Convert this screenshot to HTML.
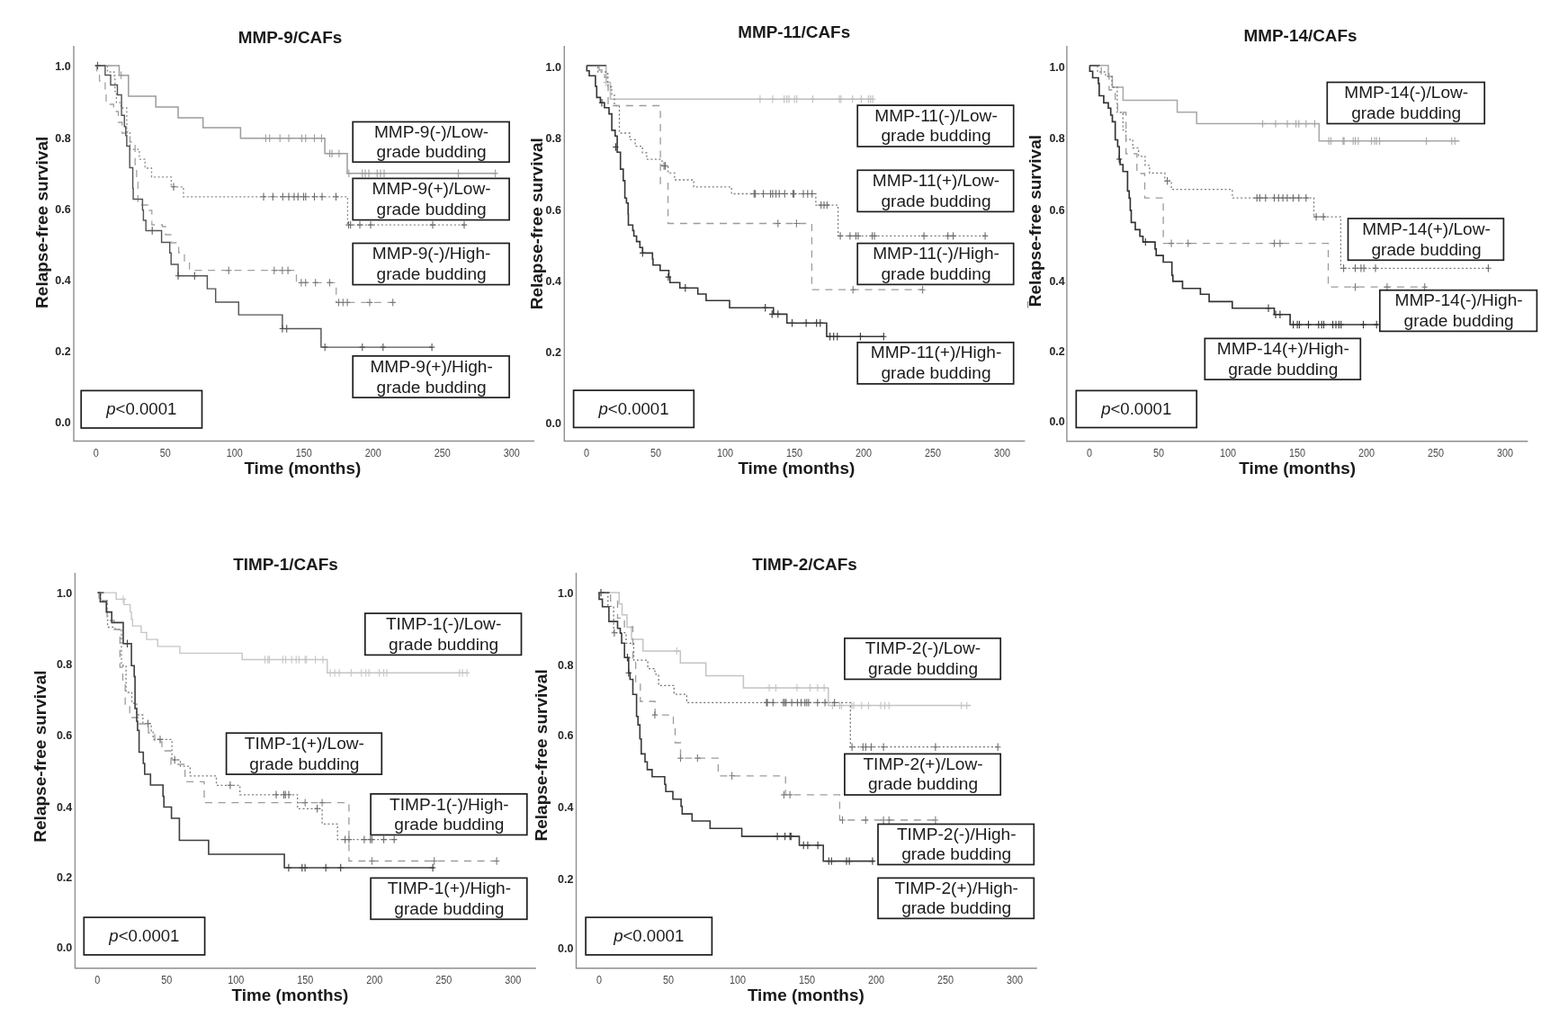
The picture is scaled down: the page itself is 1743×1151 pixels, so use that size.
<!DOCTYPE html>
<html><head><meta charset="utf-8"><title>Relapse-free survival curves</title>
<style>
html,body{margin:0;padding:0;background:#fff;}
svg{display:block;}
text{font-family:"Liberation Sans",Arial,sans-serif;}
</style></head>
<body>
<svg width="1743" height="1151" viewBox="0 0 1743 1151">
<rect width="1743" height="1151" fill="#fff"/>
<path d="M106.0 73.0H132.5V83.8H142.8V107.1H173.2V118.9H198.0V130.9H225.7V141.9H267.4V153.8H361.1V170.8H386.0V192.7H552.4" fill="none" stroke="#9c9c9c" stroke-width="1.5"/>
<path d="M134.6 79.6v8.4M131.4 83.8h6.4M295.4 149.6v8.4M292.2 153.8h6.4M299.7 149.6v8.4M296.5 153.8h6.4M311.2 149.6v8.4M308.0 153.8h6.4M321.0 149.6v8.4M317.8 153.8h6.4M335.5 149.6v8.4M332.3 153.8h6.4M339.8 149.6v8.4M336.6 153.8h6.4M349.5 149.6v8.4M346.3 153.8h6.4M357.4 149.6v8.4M354.2 153.8h6.4M366.6 166.6v8.4M363.4 170.8h6.4M369.0 166.6v8.4M365.8 170.8h6.4M376.9 166.6v8.4M373.7 170.8h6.4M387.8 188.5v8.4M384.6 192.7h6.4M402.8 188.5v8.4M399.6 192.7h6.4M406.0 188.5v8.4M402.8 192.7h6.4M410.0 188.5v8.4M406.8 192.7h6.4M419.2 188.5v8.4M416.0 192.7h6.4M423.0 188.5v8.4M419.8 192.7h6.4M427.0 188.5v8.4M423.8 192.7h6.4M509.5 188.5v8.4M506.3 192.7h6.4M550.6 188.5v8.4M547.4 192.7h6.4" fill="none" stroke="#9c9c9c" stroke-width="1.1"/>
<path d="M106.0 73.0H119.5V80.0H126.8V84.0H127.8V101.7H129.4V114.2H134.6V120.0H140.9V146.5H144.5V166.2H154.9V177.1H161.2V187.0H168.5V196.9H190.4V207.8H203.9V218.8H386.4V250.1H518.6" fill="none" stroke="#8a8a8a" stroke-width="1.3" stroke-dasharray="2 2.5"/>
<path d="M193.0 203.6v8.4M189.8 207.8h6.4M293.0 214.6v8.4M289.8 218.8h6.4M303.3 214.6v8.4M300.1 218.8h6.4M314.3 214.6v8.4M311.1 218.8h6.4M321.0 214.6v8.4M317.8 218.8h6.4M327.0 214.6v8.4M323.8 218.8h6.4M331.3 214.6v8.4M328.1 218.8h6.4M337.4 214.6v8.4M334.2 218.8h6.4M339.8 214.6v8.4M336.6 218.8h6.4M349.5 214.6v8.4M346.3 218.8h6.4M358.0 214.6v8.4M354.8 218.8h6.4M373.5 214.6v8.4M370.3 218.8h6.4M387.5 245.9v8.4M384.3 250.1h6.4M389.7 245.9v8.4M386.5 250.1h6.4M400.0 245.9v8.4M396.8 250.1h6.4M412.0 245.9v8.4M408.8 250.1h6.4M481.0 245.9v8.4M477.8 250.1h6.4M516.0 245.9v8.4M512.8 250.1h6.4" fill="none" stroke="#6a6a6a" stroke-width="1.1"/>
<path d="M106.0 73.0H107.5V81.0H110.6V90.0H116.9V100.0H118.0V116.0H126.3V124.0H131.5V136.0H135.7V148.0H144.5V158.0H150.2V183.0H151.8V200.0H153.3V228.0H165.3V234.0H168.8V250.0H180.5V252.0H184.0V261.0H190.0V270.0H198.6V281.0H205.0V290.0H210.6V300.7H329.5V314.4H373.7V336.4H437.2" fill="none" stroke="#a2a2a2" stroke-width="1.3" stroke-dasharray="8 6.7"/>
<path d="M254.3 296.5v8.4M251.1 300.7h6.4M304.8 296.5v8.4M301.6 300.7h6.4M313.9 296.5v8.4M310.7 300.7h6.4M320.1 296.5v8.4M316.9 300.7h6.4M334.9 310.2v8.4M331.7 314.4h6.4M339.7 310.2v8.4M336.5 314.4h6.4M350.7 310.2v8.4M347.5 314.4h6.4M366.5 310.2v8.4M363.3 314.4h6.4M376.5 332.2v8.4M373.3 336.4h6.4M381.3 332.2v8.4M378.1 336.4h6.4M386.1 332.2v8.4M382.9 336.4h6.4M411.0 332.2v8.4M407.8 336.4h6.4M436.7 332.2v8.4M433.5 336.4h6.4" fill="none" stroke="#7c7c7c" stroke-width="1.1"/>
<path d="M106.0 73.0H116.9V83.5H123.0V94.4H130.5V105.4H135.1V128.3H138.3V140.8H139.8V150.7H140.9V162.5H144.2V186.5H147.6V209.4H148.1V221.4H158.4V233.4H159.4V244.9H162.2V256.5H179.6V269.5H188.7V281.2H190.2V294.0H198.0V306.7H230.4V321.1H239.7V335.9H265.3V350.1H313.9V365.5H356.9V386.1H480.5" fill="none" stroke="#555555" stroke-width="1.45"/>
<path d="M108.5 68.8v8.4M105.3 73.0h6.4M169.2 252.3v8.4M166.0 256.5h6.4M198.0 302.5v8.4M194.8 306.7h6.4M216.3 302.5v8.4M213.1 306.7h6.4M313.9 361.3v8.4M310.7 365.5h6.4M318.7 361.3v8.4M315.5 365.5h6.4M361.2 381.9v8.4M358.0 386.1h6.4M402.8 381.9v8.4M399.6 386.1h6.4M425.8 381.9v8.4M422.6 386.1h6.4M480.1 381.9v8.4M476.9 386.1h6.4" fill="none" stroke="#555555" stroke-width="1.1"/>
<path d="M652.3 72.8H673.8V91.5H678.5V110.2H971.4" fill="none" stroke="#bdbdbd" stroke-width="1.6"/>
<path d="M673.8 87.3v8.4M670.6 91.5h6.4M844.9 106.0v8.4M841.7 110.2h6.4M858.9 106.0v8.4M855.7 110.2h6.4M871.7 106.0v8.4M868.5 110.2h6.4M874.7 106.0v8.4M871.5 110.2h6.4M877.1 106.0v8.4M873.9 110.2h6.4M883.2 106.0v8.4M880.0 110.2h6.4M885.7 106.0v8.4M882.5 110.2h6.4M903.3 106.0v8.4M900.1 110.2h6.4M933.1 106.0v8.4M929.9 110.2h6.4M934.9 106.0v8.4M931.7 110.2h6.4M947.7 106.0v8.4M944.5 110.2h6.4M957.4 106.0v8.4M954.2 110.2h6.4M965.3 106.0v8.4M962.1 110.2h6.4M967.7 106.0v8.4M964.5 110.2h6.4M970.2 106.0v8.4M967.0 110.2h6.4" fill="none" stroke="#bdbdbd" stroke-width="1.1"/>
<path d="M652.3 72.8H664.6V80.0H675.6V96.5H680.0V105.6H683.0V117.5H688.5V148.0H700.1V155.3H706.1V162.6H714.1V169.9H718.9V177.2H735.9V184.5H742.6V192.4H749.9V200.0H771.2V207.8H813.2V215.5H906.9V228.1H931.6V262.4H1096.6" fill="none" stroke="#7e7e7e" stroke-width="1.3" stroke-dasharray="2 2.5"/>
<path d="M738.1 180.3v8.4M734.9 184.5h6.4M739.6 180.3v8.4M736.4 184.5h6.4M838.2 211.3v8.4M835.0 215.5h6.4M839.5 211.3v8.4M836.3 215.5h6.4M848.6 211.3v8.4M845.4 215.5h6.4M856.5 211.3v8.4M853.3 215.5h6.4M858.9 211.3v8.4M855.7 215.5h6.4M862.6 211.3v8.4M859.4 215.5h6.4M866.2 211.3v8.4M863.0 215.5h6.4M872.3 211.3v8.4M869.1 215.5h6.4M881.4 211.3v8.4M878.2 215.5h6.4M882.6 211.3v8.4M879.4 215.5h6.4M893.0 211.3v8.4M889.8 215.5h6.4M897.8 211.3v8.4M894.6 215.5h6.4M902.7 211.3v8.4M899.5 215.5h6.4M912.7 223.9v8.4M909.5 228.1h6.4M916.0 223.9v8.4M912.8 228.1h6.4M919.3 223.9v8.4M916.1 228.1h6.4M934.1 258.2v8.4M930.9 262.4h6.4M944.9 258.2v8.4M941.7 262.4h6.4M951.5 258.2v8.4M948.3 262.4h6.4M953.9 258.2v8.4M950.7 262.4h6.4M969.6 258.2v8.4M966.4 262.4h6.4M972.1 258.2v8.4M968.9 262.4h6.4M1027.1 258.2v8.4M1023.9 262.4h6.4M1053.7 258.2v8.4M1050.5 262.4h6.4M1059.6 258.2v8.4M1056.4 262.4h6.4M1095.1 258.2v8.4M1091.9 262.4h6.4" fill="none" stroke="#6a6a6a" stroke-width="1.1"/>
<path d="M652.3 72.8H666.0V78.0H672.0V86.0H676.0V117.5H734.1V204.0H742.6V248.5H902.4V322.2H1025.6" fill="none" stroke="#9c9c9c" stroke-width="1.3" stroke-dasharray="8 6.7"/>
<path d="M864.8 244.3v8.4M861.6 248.5h6.4M885.4 244.3v8.4M882.2 248.5h6.4M948.2 318.0v8.4M945.0 322.2h6.4M1025.6 318.0v8.4M1022.4 322.2h6.4" fill="none" stroke="#7c7c7c" stroke-width="1.1"/>
<path d="M652.3 72.8H652.3V78.7H655.0V84.2H661.9V96.0H663.3V108.4H667.4V114.3H671.9V119.8H677.0V126.6H680.1V144.9H683.8V151.2H686.1V169.3H689.7V188.1H692.8V200.9H694.6V220.3H696.4V225.8H698.2V238.0H698.5V250.3H703.4V256.4H704.6V262.5H707.6V268.6H711.3V275.3H714.3V281.4H725.3V288.0H725.9V294.7H733.8V300.8H743.5V308.1H744.7V314.2H755.7V320.3H775.7V327.0H784.9V334.3H811.0V342.2H859.8V349.4H874.7V359.3H918.9V374.2H982.3" fill="none" stroke="#363636" stroke-width="1.6"/>
<path d="M669.0 110.1v8.4M665.8 114.3h6.4M684.4 159.3v8.4M681.2 163.5h6.4M714.3 277.2v8.4M711.1 281.4h6.4M742.9 303.9v8.4M739.7 308.1h6.4M761.8 316.1v8.4M758.6 320.3h6.4M850.7 338.0v8.4M847.5 342.2h6.4M858.2 345.2v8.4M855.0 349.4h6.4M864.8 345.2v8.4M861.6 349.4h6.4M880.5 355.1v8.4M877.3 359.3h6.4M896.1 355.1v8.4M892.9 359.3h6.4M907.7 355.1v8.4M904.5 359.3h6.4M911.8 355.1v8.4M908.6 359.3h6.4M922.6 370.0v8.4M919.4 374.2h6.4M926.7 370.0v8.4M923.5 374.2h6.4M930.8 370.0v8.4M927.6 374.2h6.4M956.4 370.0v8.4M953.2 374.2h6.4M982.3 370.0v8.4M979.1 374.2h6.4" fill="none" stroke="#363636" stroke-width="1.1"/>
<path d="M1211.4 72.8H1232.0V85.1H1236.5V97.0H1248.4V111.6H1308.6V124.8H1330.2V137.6H1466.3V156.8H1622.3" fill="none" stroke="#a8a8a8" stroke-width="1.5"/>
<path d="M1403.6 133.4v8.4M1400.4 137.6h6.4M1418.0 133.4v8.4M1414.8 137.6h6.4M1431.0 133.4v8.4M1427.8 137.6h6.4M1440.6 133.4v8.4M1437.4 137.6h6.4M1443.8 133.4v8.4M1440.6 137.6h6.4M1451.8 133.4v8.4M1448.6 137.6h6.4M1461.5 133.4v8.4M1458.3 137.6h6.4M1477.1 152.6v8.4M1473.9 156.8h6.4M1479.4 152.6v8.4M1476.2 156.8h6.4M1492.9 152.6v8.4M1489.7 156.8h6.4M1494.1 152.6v8.4M1490.9 156.8h6.4M1504.2 152.6v8.4M1501.0 156.8h6.4M1506.5 152.6v8.4M1503.3 156.8h6.4M1509.9 152.6v8.4M1506.7 156.8h6.4M1524.6 152.6v8.4M1521.4 156.8h6.4M1528.0 152.6v8.4M1524.8 156.8h6.4M1530.2 152.6v8.4M1527.0 156.8h6.4M1533.6 152.6v8.4M1530.4 156.8h6.4M1585.6 152.6v8.4M1582.4 156.8h6.4M1613.8 152.6v8.4M1610.6 156.8h6.4M1617.2 152.6v8.4M1614.0 156.8h6.4" fill="none" stroke="#a8a8a8" stroke-width="1.1"/>
<path d="M1211.4 72.8H1220.0V80.0H1229.0V85.0H1236.0V97.0H1241.9V125.0H1248.3V144.6H1251.5V155.1H1259.2V164.7H1265.6V173.8H1272.9V183.9H1277.9V192.5H1294.8V201.2H1302.1V210.7H1369.9V220.1H1460.5V241.1H1490.4V298.3H1654.4" fill="none" stroke="#7e7e7e" stroke-width="1.3" stroke-dasharray="2 2.5"/>
<path d="M1297.6 197.0v8.4M1294.4 201.2h6.4M1397.2 215.9v8.4M1394.0 220.1h6.4M1400.4 215.9v8.4M1397.2 220.1h6.4M1406.8 215.9v8.4M1403.6 220.1h6.4M1416.5 215.9v8.4M1413.3 220.1h6.4M1421.3 215.9v8.4M1418.1 220.1h6.4M1426.1 215.9v8.4M1422.9 220.1h6.4M1430.9 215.9v8.4M1427.7 220.1h6.4M1437.4 215.9v8.4M1434.2 220.1h6.4M1443.8 215.9v8.4M1440.6 220.1h6.4M1451.8 215.9v8.4M1448.6 220.1h6.4M1463.1 236.9v8.4M1459.9 241.1h6.4M1471.1 236.9v8.4M1467.9 241.1h6.4M1493.6 294.1v8.4M1490.4 298.3h6.4M1506.5 294.1v8.4M1503.3 298.3h6.4M1512.9 294.1v8.4M1509.7 298.3h6.4M1516.1 294.1v8.4M1512.9 298.3h6.4M1529.0 294.1v8.4M1525.8 298.3h6.4M1654.4 294.1v8.4M1651.2 298.3h6.4" fill="none" stroke="#6a6a6a" stroke-width="1.1"/>
<path d="M1211.4 72.8H1224.2V82.0H1232.9V100.0H1239.7V115.0H1242.4V125.0H1251.7V171.0H1263.8V193.0H1272.5V220.1H1293.1V270.6H1476.5V319.2H1585.3" fill="none" stroke="#9c9c9c" stroke-width="1.3" stroke-dasharray="8 6.7"/>
<path d="M1302.1 266.4v8.4M1298.9 270.6h6.4M1320.7 266.4v8.4M1317.5 270.6h6.4M1416.5 266.4v8.4M1413.3 270.6h6.4M1422.9 266.4v8.4M1419.7 270.6h6.4M1506.5 315.0v8.4M1503.3 319.2h6.4M1541.9 315.0v8.4M1538.7 319.2h6.4M1583.7 315.0v8.4M1580.5 319.2h6.4" fill="none" stroke="#7c7c7c" stroke-width="1.1"/>
<path d="M1211.4 72.8H1211.4V79.2H1214.6V86.5H1221.0V92.8H1221.9V106.5H1226.9V114.3H1232.0V120.2H1234.7V128.0H1236.5V135.3H1239.7V155.5H1242.4V163.0H1244.2V177.0H1245.1V183.0H1248.3V190.7H1253.4V212.3H1255.2V220.3H1256.4V233.9H1257.5V247.4H1262.0V255.3H1267.1V262.7H1270.5V269.1H1284.0V276.8H1285.2V284.1H1293.1V291.5H1302.7V306.1H1303.8V312.9H1314.5V320.7H1334.4V327.2H1344.1V335.3H1369.8V342.7H1416.5V349.7H1434.1V361.0H1532.2" fill="none" stroke="#333333" stroke-width="1.65"/>
<path d="M1244.2 172.8v8.4M1241.0 177.0h6.4M1273.3 264.9v8.4M1270.1 269.1h6.4M1410.0 338.5v8.4M1406.8 342.7h6.4M1418.0 345.5v8.4M1414.8 349.7h6.4M1422.9 345.5v8.4M1419.7 349.7h6.4M1437.6 356.8v8.4M1434.4 361.0h6.4M1442.1 356.8v8.4M1438.9 361.0h6.4M1444.4 356.8v8.4M1441.2 361.0h6.4M1454.5 356.8v8.4M1451.3 361.0h6.4M1465.8 356.8v8.4M1462.6 361.0h6.4M1469.2 356.8v8.4M1466.0 361.0h6.4M1471.5 356.8v8.4M1468.3 361.0h6.4M1481.6 356.8v8.4M1478.4 361.0h6.4M1485.0 356.8v8.4M1481.8 361.0h6.4M1488.4 356.8v8.4M1485.2 361.0h6.4M1490.7 356.8v8.4M1487.5 361.0h6.4M1515.5 356.8v8.4M1512.3 361.0h6.4M1530.2 356.8v8.4M1527.0 361.0h6.4" fill="none" stroke="#333333" stroke-width="1.1"/>
<path d="M108.7 659.1H129.2V666.4H137.9V672.4H144.7V680.6H146.1V688.8H147.4V696.1H157.0V703.4H163.0V711.1H175.3V718.9H199.9V726.4H269.2V733.5H363.8V748.2H520.7" fill="none" stroke="#c6c6c6" stroke-width="1.4"/>
<path d="M137.0 662.2v8.4M133.8 666.4h6.4M294.5 729.3v8.4M291.3 733.5h6.4M297.8 729.3v8.4M294.6 733.5h6.4M299.4 729.3v8.4M296.2 733.5h6.4M314.3 729.3v8.4M311.1 733.5h6.4M317.6 729.3v8.4M314.4 733.5h6.4M324.2 729.3v8.4M321.0 733.5h6.4M329.2 729.3v8.4M326.0 733.5h6.4M332.5 729.3v8.4M329.3 733.5h6.4M339.1 729.3v8.4M335.9 733.5h6.4M340.7 729.3v8.4M337.5 733.5h6.4M350.6 729.3v8.4M347.4 733.5h6.4M358.9 729.3v8.4M355.7 733.5h6.4M367.1 744.0v8.4M363.9 748.2h6.4M372.1 744.0v8.4M368.9 748.2h6.4M377.1 744.0v8.4M373.9 748.2h6.4M390.3 744.0v8.4M387.1 748.2h6.4M401.8 744.0v8.4M398.6 748.2h6.4M406.8 744.0v8.4M403.6 748.2h6.4M410.1 744.0v8.4M406.9 748.2h6.4M421.6 744.0v8.4M418.4 748.2h6.4M426.6 744.0v8.4M423.4 748.2h6.4M429.9 744.0v8.4M426.7 748.2h6.4M510.8 744.0v8.4M507.6 748.2h6.4M514.1 744.0v8.4M510.9 748.2h6.4M519.1 744.0v8.4M515.9 748.2h6.4" fill="none" stroke="#c6c6c6" stroke-width="1.1"/>
<path d="M108.7 659.1H112.0V668.0H119.2V680.0H119.6V697.5H128.0V700.0H135.0V740.0H140.1V770.0H146.5V782.0H152.0V795.0H158.8V804.7H168.1V813.0H170.2V822.4H191.1V845.0H200.5V852.1H211.4V862.8H240.5V873.3H266.7V883.8H330.7V899.3H358.1V916.3H375.2V933.6H439.8" fill="none" stroke="#7e7e7e" stroke-width="1.3" stroke-dasharray="2 2.5"/>
<path d="M164.5 800.5v8.4M161.3 804.7h6.4M178.0 818.2v8.4M174.8 822.4h6.4M194.2 840.8v8.4M191.0 845.0h6.4M255.9 869.1v8.4M252.7 873.3h6.4M307.0 879.6v8.4M303.8 883.8h6.4M315.5 879.6v8.4M312.3 883.8h6.4M317.3 879.6v8.4M314.1 883.8h6.4M321.0 879.6v8.4M317.8 883.8h6.4M352.6 895.1v8.4M349.4 899.3h6.4M383.6 929.4v8.4M380.4 933.6h6.4M387.9 929.4v8.4M384.7 933.6h6.4M404.9 929.4v8.4M401.7 933.6h6.4M411.7 929.4v8.4M408.5 933.6h6.4M413.4 929.4v8.4M410.2 933.6h6.4M426.6 929.4v8.4M423.4 933.6h6.4M438.2 929.4v8.4M435.0 933.6h6.4" fill="none" stroke="#6a6a6a" stroke-width="1.1"/>
<path d="M108.7 659.1H110.0V668.0H119.0V690.0H127.0V700.0H133.3V742.0H136.5V757.0H139.2V783.0H144.2V798.0H155.0V805.0H165.0V815.0H172.0V825.0H180.0V835.0H190.0V850.0H205.7V869.3H227.0V892.6H387.9V957.5H553.7" fill="none" stroke="#9c9c9c" stroke-width="1.3" stroke-dasharray="8 6.7"/>
<path d="M339.2 888.4v8.4M336.0 892.6h6.4M358.1 888.4v8.4M354.9 892.6h6.4M413.4 953.3v8.4M410.2 957.5h6.4M482.7 953.3v8.4M479.5 957.5h6.4M552.1 953.3v8.4M548.9 957.5h6.4" fill="none" stroke="#7c7c7c" stroke-width="1.1"/>
<path d="M108.7 659.1H111.4V669.2H118.2V680.6H124.2V692.4H137.0V715.7H146.1V740.3H149.2V752.4H150.1V788.0H152.0V802.1H152.9V812.2H154.6V836.5H159.3V849.0H160.8V861.0H167.3V873.0H181.2V885.5H182.2V897.5H190.6V910.0H199.4V934.5H231.9V950.0H316.1V965.0H482.7" fill="none" stroke="#3e3e3e" stroke-width="1.6"/>
<path d="M141.5 711.5v8.4M138.3 715.7h6.4M320.9 960.8v8.4M317.7 965.0h6.4M335.8 960.8v8.4M332.6 965.0h6.4M339.1 960.8v8.4M335.9 965.0h6.4M362.2 960.8v8.4M359.0 965.0h6.4M378.7 960.8v8.4M375.5 965.0h6.4M481.1 960.8v8.4M477.9 965.0h6.4" fill="none" stroke="#3e3e3e" stroke-width="1.1"/>
<path d="M666.0 659.1H688.3V671.5H691.5V683.8H697.0V697.5H702.0V711.1H714.8V723.9H756.3V737.3H784.7V751.4H826.4V764.9H920.8V784.6H1079.4" fill="none" stroke="#c4c4c4" stroke-width="1.5"/>
<path d="M752.2 719.7v8.4M749.0 723.9h6.4M855.1 760.7v8.4M851.9 764.9h6.4M862.4 760.7v8.4M859.2 764.9h6.4M885.9 760.7v8.4M882.7 764.9h6.4M900.5 760.7v8.4M897.3 764.9h6.4M908.8 760.7v8.4M905.6 764.9h6.4M916.1 760.7v8.4M912.9 764.9h6.4M925.5 780.4v8.4M922.3 784.6h6.4M933.3 780.4v8.4M930.1 784.6h6.4M935.4 780.4v8.4M932.2 784.6h6.4M946.9 780.4v8.4M943.7 784.6h6.4M949.0 780.4v8.4M945.8 784.6h6.4M957.8 780.4v8.4M954.6 784.6h6.4M965.4 780.4v8.4M962.2 784.6h6.4M979.0 780.4v8.4M975.8 784.6h6.4M983.6 780.4v8.4M980.4 784.6h6.4M988.2 780.4v8.4M985.0 784.6h6.4M1068.7 780.4v8.4M1065.5 784.6h6.4M1074.8 780.4v8.4M1071.6 784.6h6.4" fill="none" stroke="#c4c4c4" stroke-width="1.1"/>
<path d="M666.0 659.1H675.8V674.3H682.1V703.7H696.0V715.3H704.5V734.2H720.1V743.6H728.0V749.8H732.1V762.3H749.3V772.2H763.4V781.4H945.3V830.7H1109.8" fill="none" stroke="#727272" stroke-width="1.3" stroke-dasharray="2 2.5"/>
<path d="M682.9 699.5v8.4M679.7 703.7h6.4M852.0 777.2v8.4M848.8 781.4h6.4M853.0 777.2v8.4M849.8 781.4h6.4M859.3 777.2v8.4M856.1 781.4h6.4M870.7 777.2v8.4M867.5 781.4h6.4M872.3 777.2v8.4M869.1 781.4h6.4M873.9 777.2v8.4M870.7 781.4h6.4M880.1 777.2v8.4M876.9 781.4h6.4M886.4 777.2v8.4M883.2 781.4h6.4M890.5 777.2v8.4M887.3 781.4h6.4M894.7 777.2v8.4M891.5 781.4h6.4M896.8 777.2v8.4M893.6 781.4h6.4M898.9 777.2v8.4M895.7 781.4h6.4M908.8 777.2v8.4M905.6 781.4h6.4M917.1 777.2v8.4M913.9 781.4h6.4M927.6 777.2v8.4M924.4 781.4h6.4M947.1 826.5v8.4M943.9 830.7h6.4M959.3 826.5v8.4M956.1 830.7h6.4M962.3 826.5v8.4M959.1 830.7h6.4M968.4 826.5v8.4M965.2 830.7h6.4M982.1 826.5v8.4M978.9 830.7h6.4M1039.9 826.5v8.4M1036.7 830.7h6.4M1109.2 826.5v8.4M1106.0 830.7h6.4" fill="none" stroke="#6a6a6a" stroke-width="1.1"/>
<path d="M666.0 659.1H678.7V668.3H686.5V687.3H694.1V697.0H703.5V733.0H706.6V760.0H711.8V780.0H728.2V795.1H748.5V809.0H750.5V826.0H756.5V843.1H798.4V862.8H873.2V883.9H933.4V912.0H1041.4" fill="none" stroke="#9c9c9c" stroke-width="1.3" stroke-dasharray="8 6.7"/>
<path d="M727.9 790.9v8.4M724.7 795.1h6.4M756.5 838.9v8.4M753.3 843.1h6.4M775.3 838.9v8.4M772.1 843.1h6.4M813.6 858.6v8.4M810.4 862.8h6.4M871.4 879.7v8.4M868.2 883.9h6.4M878.1 879.7v8.4M874.9 883.9h6.4M936.5 907.8v8.4M933.3 912.0h6.4M962.3 907.8v8.4M959.1 912.0h6.4M982.1 907.8v8.4M978.9 912.0h6.4M988.2 907.8v8.4M985.0 912.0h6.4M1039.9 907.8v8.4M1036.7 912.0h6.4" fill="none" stroke="#7c7c7c" stroke-width="1.1"/>
<path d="M666.0 659.1H666.0V666.4H669.6V674.7H676.9V691.1H686.5V698.8H689.5V704.3H691.0V715.3H694.2V731.2H698.8V748.2H700.3V755.5H703.5V772.2H707.6V796.7H709.2V806.1H711.3V821.7H712.8V838.4H717.0V847.3H719.5V855.9H724.9V863.8H738.9V872.3H740.1V880.2H748.0V888.7H757.1V896.6H758.3V905.1H769.3V913.0H789.3V921.2H824.6V930.1H888.5V940.0H915.2V957.6H971.5" fill="none" stroke="#3a3a3a" stroke-width="1.6"/>
<path d="M668.0 654.9v8.4M664.8 659.1h6.4M697.4 727.0v8.4M694.2 731.2h6.4M698.8 744.0v8.4M695.6 748.2h6.4M864.1 925.9v8.4M860.9 930.1h6.4M872.6 925.9v8.4M869.4 930.1h6.4M878.1 925.9v8.4M874.9 930.1h6.4M879.3 925.9v8.4M876.1 930.1h6.4M893.2 935.8v8.4M890.0 940.0h6.4M897.9 935.8v8.4M894.7 940.0h6.4M909.1 935.8v8.4M905.9 940.0h6.4M921.3 953.4v8.4M918.1 957.6h6.4M924.3 953.4v8.4M921.1 957.6h6.4M941.0 953.4v8.4M937.8 957.6h6.4M944.1 953.4v8.4M940.9 957.6h6.4M969.9 953.4v8.4M966.7 957.6h6.4" fill="none" stroke="#3a3a3a" stroke-width="1.1"/>
<path d="M652.3 72.8H673.8" stroke="#505050" stroke-width="1.6" fill="none"/>
<path d="M1211.4 72.8H1222.4" stroke="#505050" stroke-width="1.6" fill="none"/>
<path d="M108.7 659.1H115.5" stroke="#606060" stroke-width="1.6" fill="none"/>
<path d="M666 659.1H677.6" stroke="#555555" stroke-width="1.6" fill="none"/>
<path d="M1142.6 335V342.6" stroke="#8a8a8a" stroke-width="1.2"/>
<path d="M82.0 51 V490.5 H594.0" fill="none" stroke="#8e8e8e" stroke-width="1.4"/>
<text x="78.6" y="78.1" font-size="12.5" text-anchor="end" font-weight="bold" fill="#262626" >1.0</text>
<text x="78.6" y="157.7" font-size="12.5" text-anchor="end" font-weight="bold" fill="#262626" >0.8</text>
<text x="78.6" y="236.9" font-size="12.5" text-anchor="end" font-weight="bold" fill="#262626" >0.6</text>
<text x="78.6" y="316.3" font-size="12.5" text-anchor="end" font-weight="bold" fill="#262626" >0.4</text>
<text x="78.6" y="395.2" font-size="12.5" text-anchor="end" font-weight="bold" fill="#262626" >0.2</text>
<text x="78.6" y="473.7" font-size="12.5" text-anchor="end" font-weight="bold" fill="#262626" >0.0</text>
<text transform="translate(106.7,508.4) scale(0.9,1)" x="0" y="0" font-size="12" text-anchor="middle" fill="#4a4a4a">0</text>
<text transform="translate(183.7,508.4) scale(0.9,1)" x="0" y="0" font-size="12" text-anchor="middle" fill="#4a4a4a">50</text>
<text transform="translate(260.7,508.4) scale(0.9,1)" x="0" y="0" font-size="12" text-anchor="middle" fill="#4a4a4a">100</text>
<text transform="translate(337.7,508.4) scale(0.9,1)" x="0" y="0" font-size="12" text-anchor="middle" fill="#4a4a4a">150</text>
<text transform="translate(414.7,508.4) scale(0.9,1)" x="0" y="0" font-size="12" text-anchor="middle" fill="#4a4a4a">200</text>
<text transform="translate(491.7,508.4) scale(0.9,1)" x="0" y="0" font-size="12" text-anchor="middle" fill="#4a4a4a">250</text>
<text transform="translate(568.7,508.4) scale(0.9,1)" x="0" y="0" font-size="12" text-anchor="middle" fill="#4a4a4a">300</text>
<text x="322.5" y="47.7" font-size="18.9" text-anchor="middle" font-weight="bold" fill="#1a1a1a" >MMP-9/CAFs</text>
<text x="336.3" y="526.7" font-size="18.9" text-anchor="middle" font-weight="bold" fill="#1a1a1a" >Time (months)</text>
<text x="0" y="0" font-size="19.0" font-weight="bold" text-anchor="middle" fill="#1a1a1a" transform="translate(52.6,247.3) rotate(-90)">Relapse-free survival</text>
<path d="M627.3 51 V490.5 H1139.4" fill="none" stroke="#8e8e8e" stroke-width="1.4"/>
<text x="624.0" y="79.1" font-size="12.5" text-anchor="end" font-weight="bold" fill="#262626" >1.0</text>
<text x="624.0" y="158.1" font-size="12.5" text-anchor="end" font-weight="bold" fill="#262626" >0.8</text>
<text x="624.0" y="237.7" font-size="12.5" text-anchor="end" font-weight="bold" fill="#262626" >0.6</text>
<text x="624.0" y="317.1" font-size="12.5" text-anchor="end" font-weight="bold" fill="#262626" >0.4</text>
<text x="624.0" y="396.4" font-size="12.5" text-anchor="end" font-weight="bold" fill="#262626" >0.2</text>
<text x="624.0" y="474.6" font-size="12.5" text-anchor="end" font-weight="bold" fill="#262626" >0.0</text>
<text transform="translate(651.9,508.4) scale(0.9,1)" x="0" y="0" font-size="12" text-anchor="middle" fill="#4a4a4a">0</text>
<text transform="translate(728.9,508.4) scale(0.9,1)" x="0" y="0" font-size="12" text-anchor="middle" fill="#4a4a4a">50</text>
<text transform="translate(805.9,508.4) scale(0.9,1)" x="0" y="0" font-size="12" text-anchor="middle" fill="#4a4a4a">100</text>
<text transform="translate(882.9,508.4) scale(0.9,1)" x="0" y="0" font-size="12" text-anchor="middle" fill="#4a4a4a">150</text>
<text transform="translate(959.9,508.4) scale(0.9,1)" x="0" y="0" font-size="12" text-anchor="middle" fill="#4a4a4a">200</text>
<text transform="translate(1036.9,508.4) scale(0.9,1)" x="0" y="0" font-size="12" text-anchor="middle" fill="#4a4a4a">250</text>
<text transform="translate(1113.9,508.4) scale(0.9,1)" x="0" y="0" font-size="12" text-anchor="middle" fill="#4a4a4a">300</text>
<text x="882.7" y="41.6" font-size="18.9" text-anchor="middle" font-weight="bold" fill="#1a1a1a" >MMP-11/CAFs</text>
<text x="885.3" y="526.7" font-size="18.9" text-anchor="middle" font-weight="bold" fill="#1a1a1a" >Time (months)</text>
<text x="0" y="0" font-size="19.0" font-weight="bold" text-anchor="middle" fill="#1a1a1a" transform="translate(602.6,248.7) rotate(-90)">Relapse-free survival</text>
<path d="M1185.9 51 V490.7 H1698.4" fill="none" stroke="#8e8e8e" stroke-width="1.4"/>
<text x="1183.8" y="78.6" font-size="12.5" text-anchor="end" font-weight="bold" fill="#262626" >1.0</text>
<text x="1183.8" y="158.4" font-size="12.5" text-anchor="end" font-weight="bold" fill="#262626" >0.8</text>
<text x="1183.8" y="237.7" font-size="12.5" text-anchor="end" font-weight="bold" fill="#262626" >0.6</text>
<text x="1183.8" y="317.1" font-size="12.5" text-anchor="end" font-weight="bold" fill="#262626" >0.4</text>
<text x="1183.8" y="395.3" font-size="12.5" text-anchor="end" font-weight="bold" fill="#262626" >0.2</text>
<text x="1183.8" y="473.3" font-size="12.5" text-anchor="end" font-weight="bold" fill="#262626" >0.0</text>
<text transform="translate(1210.9,508.4) scale(0.9,1)" x="0" y="0" font-size="12" text-anchor="middle" fill="#4a4a4a">0</text>
<text transform="translate(1287.9,508.4) scale(0.9,1)" x="0" y="0" font-size="12" text-anchor="middle" fill="#4a4a4a">50</text>
<text transform="translate(1364.9,508.4) scale(0.9,1)" x="0" y="0" font-size="12" text-anchor="middle" fill="#4a4a4a">100</text>
<text transform="translate(1441.9,508.4) scale(0.9,1)" x="0" y="0" font-size="12" text-anchor="middle" fill="#4a4a4a">150</text>
<text transform="translate(1518.9,508.4) scale(0.9,1)" x="0" y="0" font-size="12" text-anchor="middle" fill="#4a4a4a">200</text>
<text transform="translate(1595.9,508.4) scale(0.9,1)" x="0" y="0" font-size="12" text-anchor="middle" fill="#4a4a4a">250</text>
<text transform="translate(1672.9,508.4) scale(0.9,1)" x="0" y="0" font-size="12" text-anchor="middle" fill="#4a4a4a">300</text>
<text x="1445.5" y="46.3" font-size="18.9" text-anchor="middle" font-weight="bold" fill="#1a1a1a" >MMP-14/CAFs</text>
<text x="1442.1" y="526.7" font-size="18.9" text-anchor="middle" font-weight="bold" fill="#1a1a1a" >Time (months)</text>
<text x="0" y="0" font-size="19.0" font-weight="bold" text-anchor="middle" fill="#1a1a1a" transform="translate(1157.0,245.6) rotate(-90)">Relapse-free survival</text>
<path d="M83.4 637 V1076.8 H595.8" fill="none" stroke="#8e8e8e" stroke-width="1.4"/>
<text x="80.3" y="663.5" font-size="12.5" text-anchor="end" font-weight="bold" fill="#262626" >1.0</text>
<text x="80.3" y="742.7" font-size="12.5" text-anchor="end" font-weight="bold" fill="#262626" >0.8</text>
<text x="80.3" y="822.4" font-size="12.5" text-anchor="end" font-weight="bold" fill="#262626" >0.6</text>
<text x="80.3" y="901.9" font-size="12.5" text-anchor="end" font-weight="bold" fill="#262626" >0.4</text>
<text x="80.3" y="979.9" font-size="12.5" text-anchor="end" font-weight="bold" fill="#262626" >0.2</text>
<text x="80.3" y="1057.7" font-size="12.5" text-anchor="end" font-weight="bold" fill="#262626" >0.0</text>
<text transform="translate(108.3,1094.4) scale(0.9,1)" x="0" y="0" font-size="12" text-anchor="middle" fill="#4a4a4a">0</text>
<text transform="translate(185.3,1094.4) scale(0.9,1)" x="0" y="0" font-size="12" text-anchor="middle" fill="#4a4a4a">50</text>
<text transform="translate(262.3,1094.4) scale(0.9,1)" x="0" y="0" font-size="12" text-anchor="middle" fill="#4a4a4a">100</text>
<text transform="translate(339.3,1094.4) scale(0.9,1)" x="0" y="0" font-size="12" text-anchor="middle" fill="#4a4a4a">150</text>
<text transform="translate(416.3,1094.4) scale(0.9,1)" x="0" y="0" font-size="12" text-anchor="middle" fill="#4a4a4a">200</text>
<text transform="translate(493.3,1094.4) scale(0.9,1)" x="0" y="0" font-size="12" text-anchor="middle" fill="#4a4a4a">250</text>
<text transform="translate(570.3,1094.4) scale(0.9,1)" x="0" y="0" font-size="12" text-anchor="middle" fill="#4a4a4a">300</text>
<text x="317.5" y="633.9" font-size="18.9" text-anchor="middle" font-weight="bold" fill="#1a1a1a" >TIMP-1/CAFs</text>
<text x="322.4" y="1112.6" font-size="18.9" text-anchor="middle" font-weight="bold" fill="#1a1a1a" >Time (months)</text>
<text x="0" y="0" font-size="19.0" font-weight="bold" text-anchor="middle" fill="#1a1a1a" transform="translate(50.6,841.1) rotate(-90)">Relapse-free survival</text>
<path d="M640.5 637 V1076.8 H1152.8" fill="none" stroke="#8e8e8e" stroke-width="1.4"/>
<text x="637.5" y="664.3" font-size="12.5" text-anchor="end" font-weight="bold" fill="#262626" >1.0</text>
<text x="637.5" y="743.5" font-size="12.5" text-anchor="end" font-weight="bold" fill="#262626" >0.8</text>
<text x="637.5" y="822.4" font-size="12.5" text-anchor="end" font-weight="bold" fill="#262626" >0.6</text>
<text x="637.5" y="901.9" font-size="12.5" text-anchor="end" font-weight="bold" fill="#262626" >0.4</text>
<text x="637.5" y="981.6" font-size="12.5" text-anchor="end" font-weight="bold" fill="#262626" >0.2</text>
<text x="637.5" y="1059.1" font-size="12.5" text-anchor="end" font-weight="bold" fill="#262626" >0.0</text>
<text transform="translate(666.1,1094.4) scale(0.9,1)" x="0" y="0" font-size="12" text-anchor="middle" fill="#4a4a4a">0</text>
<text transform="translate(743.1,1094.4) scale(0.9,1)" x="0" y="0" font-size="12" text-anchor="middle" fill="#4a4a4a">50</text>
<text transform="translate(820.1,1094.4) scale(0.9,1)" x="0" y="0" font-size="12" text-anchor="middle" fill="#4a4a4a">100</text>
<text transform="translate(897.1,1094.4) scale(0.9,1)" x="0" y="0" font-size="12" text-anchor="middle" fill="#4a4a4a">150</text>
<text transform="translate(974.1,1094.4) scale(0.9,1)" x="0" y="0" font-size="12" text-anchor="middle" fill="#4a4a4a">200</text>
<text transform="translate(1051.1,1094.4) scale(0.9,1)" x="0" y="0" font-size="12" text-anchor="middle" fill="#4a4a4a">250</text>
<text transform="translate(1128.1,1094.4) scale(0.9,1)" x="0" y="0" font-size="12" text-anchor="middle" fill="#4a4a4a">300</text>
<text x="894.5" y="633.9" font-size="18.9" text-anchor="middle" font-weight="bold" fill="#1a1a1a" >TIMP-2/CAFs</text>
<text x="895.8" y="1112.6" font-size="18.9" text-anchor="middle" font-weight="bold" fill="#1a1a1a" >Time (months)</text>
<text x="0" y="0" font-size="19.0" font-weight="bold" text-anchor="middle" fill="#1a1a1a" transform="translate(607.9,839.9) rotate(-90)">Relapse-free survival</text>
<rect x="392.2" y="135.5" width="173.9" height="44.7" fill="none" stroke="#1e1e1e" stroke-width="1.7"/>
<text x="479.6" y="153.1" font-size="19.1" text-anchor="middle" font-weight="normal" fill="#1a1a1a" >MMP-9(-)/Low-</text>
<text x="479.6" y="174.6" font-size="19.1" text-anchor="middle" font-weight="normal" fill="#1a1a1a" >grade budding</text>
<rect x="392.2" y="198.4" width="173.9" height="46.2" fill="none" stroke="#1e1e1e" stroke-width="1.7"/>
<text x="479.6" y="216.0" font-size="19.1" text-anchor="middle" font-weight="normal" fill="#1a1a1a" >MMP-9(+)/Low-</text>
<text x="479.6" y="239.0" font-size="19.1" text-anchor="middle" font-weight="normal" fill="#1a1a1a" >grade budding</text>
<rect x="392.2" y="270.5" width="173.9" height="46.1" fill="none" stroke="#1e1e1e" stroke-width="1.7"/>
<text x="479.6" y="288.1" font-size="19.1" text-anchor="middle" font-weight="normal" fill="#1a1a1a" >MMP-9(-)/High-</text>
<text x="479.6" y="311.0" font-size="19.1" text-anchor="middle" font-weight="normal" fill="#1a1a1a" >grade budding</text>
<rect x="392.2" y="395.9" width="173.9" height="46.2" fill="none" stroke="#1e1e1e" stroke-width="1.7"/>
<text x="479.6" y="413.5" font-size="19.1" text-anchor="middle" font-weight="normal" fill="#1a1a1a" >MMP-9(+)/High-</text>
<text x="479.6" y="436.5" font-size="19.1" text-anchor="middle" font-weight="normal" fill="#1a1a1a" >grade budding</text>
<rect x="90.2" y="434.4" width="134.3" height="41.6" fill="none" stroke="#1e1e1e" stroke-width="1.7"/>
<text x="157.3" y="461.1" font-size="18.6" text-anchor="middle" fill="#1a1a1a"><tspan font-style="italic">p</tspan>&lt;0.0001</text>
<rect x="953.2" y="117.1" width="173.5" height="45.9" fill="none" stroke="#1e1e1e" stroke-width="1.7"/>
<text x="1040.5" y="134.7" font-size="19.1" text-anchor="middle" font-weight="normal" fill="#1a1a1a" >MMP-11(-)/Low-</text>
<text x="1040.5" y="157.4" font-size="19.1" text-anchor="middle" font-weight="normal" fill="#1a1a1a" >grade budding</text>
<rect x="953.2" y="189.3" width="173.5" height="46.1" fill="none" stroke="#1e1e1e" stroke-width="1.7"/>
<text x="1040.5" y="206.9" font-size="19.1" text-anchor="middle" font-weight="normal" fill="#1a1a1a" >MMP-11(+)/Low-</text>
<text x="1040.5" y="229.8" font-size="19.1" text-anchor="middle" font-weight="normal" fill="#1a1a1a" >grade budding</text>
<rect x="953.2" y="270.6" width="173.5" height="45.8" fill="none" stroke="#1e1e1e" stroke-width="1.7"/>
<text x="1040.5" y="288.2" font-size="19.1" text-anchor="middle" font-weight="normal" fill="#1a1a1a" >MMP-11(-)/High-</text>
<text x="1040.5" y="310.8" font-size="19.1" text-anchor="middle" font-weight="normal" fill="#1a1a1a" >grade budding</text>
<rect x="953.2" y="380.8" width="173.5" height="46.1" fill="none" stroke="#1e1e1e" stroke-width="1.7"/>
<text x="1040.5" y="398.4" font-size="19.1" text-anchor="middle" font-weight="normal" fill="#1a1a1a" >MMP-11(+)/High-</text>
<text x="1040.5" y="421.3" font-size="19.1" text-anchor="middle" font-weight="normal" fill="#1a1a1a" >grade budding</text>
<rect x="637.6" y="434.1" width="133.7" height="41.3" fill="none" stroke="#1e1e1e" stroke-width="1.7"/>
<text x="704.5" y="460.6" font-size="18.6" text-anchor="middle" fill="#1a1a1a"><tspan font-style="italic">p</tspan>&lt;0.0001</text>
<rect x="1475.3" y="91.5" width="174.9" height="46.0" fill="none" stroke="#1e1e1e" stroke-width="1.7"/>
<text x="1563.2" y="109.1" font-size="19.1" text-anchor="middle" font-weight="normal" fill="#1a1a1a" >MMP-14(-)/Low-</text>
<text x="1563.2" y="131.9" font-size="19.1" text-anchor="middle" font-weight="normal" fill="#1a1a1a" >grade budding</text>
<rect x="1498.5" y="243.0" width="172.9" height="46.3" fill="none" stroke="#1e1e1e" stroke-width="1.7"/>
<text x="1585.5" y="260.6" font-size="19.1" text-anchor="middle" font-weight="normal" fill="#1a1a1a" >MMP-14(+)/Low-</text>
<text x="1585.5" y="283.7" font-size="19.1" text-anchor="middle" font-weight="normal" fill="#1a1a1a" >grade budding</text>
<rect x="1533.8" y="322.7" width="174.6" height="45.7" fill="none" stroke="#1e1e1e" stroke-width="1.7"/>
<text x="1621.6" y="340.3" font-size="19.1" text-anchor="middle" font-weight="normal" fill="#1a1a1a" >MMP-14(-)/High-</text>
<text x="1621.6" y="362.8" font-size="19.1" text-anchor="middle" font-weight="normal" fill="#1a1a1a" >grade budding</text>
<rect x="1339.3" y="376.4" width="173.0" height="45.7" fill="none" stroke="#1e1e1e" stroke-width="1.7"/>
<text x="1426.3" y="394.0" font-size="19.1" text-anchor="middle" font-weight="normal" fill="#1a1a1a" >MMP-14(+)/High-</text>
<text x="1426.3" y="416.5" font-size="19.1" text-anchor="middle" font-weight="normal" fill="#1a1a1a" >grade budding</text>
<rect x="1196.3" y="434.4" width="133.9" height="41.1" fill="none" stroke="#1e1e1e" stroke-width="1.7"/>
<text x="1263.2" y="460.8" font-size="18.6" text-anchor="middle" fill="#1a1a1a"><tspan font-style="italic">p</tspan>&lt;0.0001</text>
<rect x="405.8" y="682.1" width="173.7" height="46.3" fill="none" stroke="#1e1e1e" stroke-width="1.7"/>
<text x="493.1" y="699.7" font-size="19.1" text-anchor="middle" font-weight="normal" fill="#1a1a1a" >TIMP-1(-)/Low-</text>
<text x="493.1" y="722.8" font-size="19.1" text-anchor="middle" font-weight="normal" fill="#1a1a1a" >grade budding</text>
<rect x="251.6" y="815.2" width="172.7" height="45.9" fill="none" stroke="#1e1e1e" stroke-width="1.7"/>
<text x="338.4" y="832.8" font-size="19.1" text-anchor="middle" font-weight="normal" fill="#1a1a1a" >TIMP-1(+)/Low-</text>
<text x="338.4" y="855.5" font-size="19.1" text-anchor="middle" font-weight="normal" fill="#1a1a1a" >grade budding</text>
<rect x="412.1" y="882.9" width="173.7" height="45.6" fill="none" stroke="#1e1e1e" stroke-width="1.7"/>
<text x="499.4" y="900.5" font-size="19.1" text-anchor="middle" font-weight="normal" fill="#1a1a1a" >TIMP-1(-)/High-</text>
<text x="499.4" y="922.9" font-size="19.1" text-anchor="middle" font-weight="normal" fill="#1a1a1a" >grade budding</text>
<rect x="412.1" y="976.4" width="173.7" height="45.9" fill="none" stroke="#1e1e1e" stroke-width="1.7"/>
<text x="499.4" y="994.0" font-size="19.1" text-anchor="middle" font-weight="normal" fill="#1a1a1a" >TIMP-1(+)/High-</text>
<text x="499.4" y="1016.7" font-size="19.1" text-anchor="middle" font-weight="normal" fill="#1a1a1a" >grade budding</text>
<rect x="93.3" y="1020.2" width="134.3" height="41.7" fill="none" stroke="#1e1e1e" stroke-width="1.7"/>
<text x="160.4" y="1047.0" font-size="18.6" text-anchor="middle" fill="#1a1a1a"><tspan font-style="italic">p</tspan>&lt;0.0001</text>
<rect x="938.9" y="709.8" width="173.3" height="45.6" fill="none" stroke="#1e1e1e" stroke-width="1.7"/>
<text x="1026.0" y="727.4" font-size="19.1" text-anchor="middle" font-weight="normal" fill="#1a1a1a" >TIMP-2(-)/Low-</text>
<text x="1026.0" y="749.8" font-size="19.1" text-anchor="middle" font-weight="normal" fill="#1a1a1a" >grade budding</text>
<rect x="938.9" y="838.4" width="173.3" height="45.6" fill="none" stroke="#1e1e1e" stroke-width="1.7"/>
<text x="1026.0" y="856.0" font-size="19.1" text-anchor="middle" font-weight="normal" fill="#1a1a1a" >TIMP-2(+)/Low-</text>
<text x="1026.0" y="878.4" font-size="19.1" text-anchor="middle" font-weight="normal" fill="#1a1a1a" >grade budding</text>
<rect x="976.0" y="916.5" width="173.3" height="45.0" fill="none" stroke="#1e1e1e" stroke-width="1.7"/>
<text x="1063.2" y="934.1" font-size="19.1" text-anchor="middle" font-weight="normal" fill="#1a1a1a" >TIMP-2(-)/High-</text>
<text x="1063.2" y="955.9" font-size="19.1" text-anchor="middle" font-weight="normal" fill="#1a1a1a" >grade budding</text>
<rect x="976.0" y="976.4" width="173.3" height="45.0" fill="none" stroke="#1e1e1e" stroke-width="1.7"/>
<text x="1063.2" y="994.0" font-size="19.1" text-anchor="middle" font-weight="normal" fill="#1a1a1a" >TIMP-2(+)/High-</text>
<text x="1063.2" y="1015.8" font-size="19.1" text-anchor="middle" font-weight="normal" fill="#1a1a1a" >grade budding</text>
<rect x="651.1" y="1020.2" width="140.3" height="41.7" fill="none" stroke="#1e1e1e" stroke-width="1.7"/>
<text x="721.2" y="1047.0" font-size="18.6" text-anchor="middle" fill="#1a1a1a"><tspan font-style="italic">p</tspan>&lt;0.0001</text>
</svg>
</body></html>
